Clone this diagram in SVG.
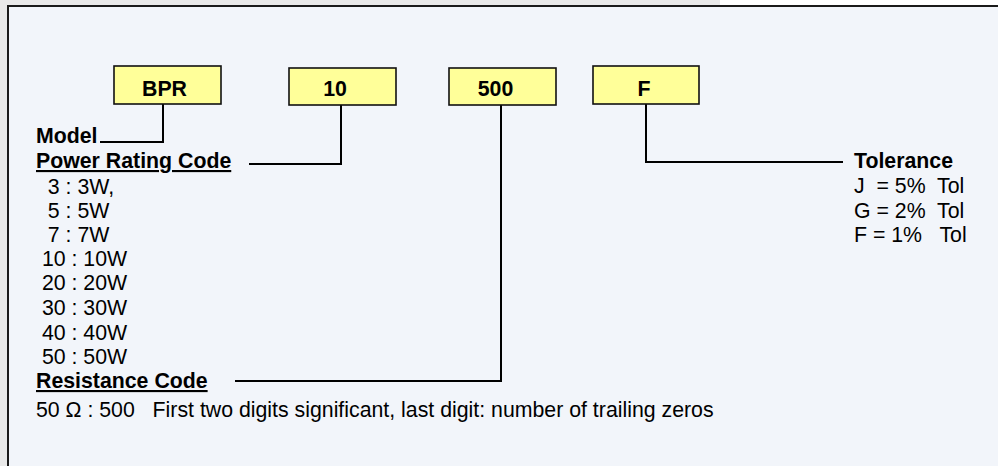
<svg xmlns="http://www.w3.org/2000/svg" width="998" height="466" viewBox="0 0 998 466">
<style>
.t{font-family:"Liberation Sans",Arial,sans-serif;font-size:21.3px;fill:#000}
.b{font-weight:bold}
.u{text-decoration:underline}
.box{fill:#FFFF99;stroke:#111;stroke-width:1.6}
.c{fill:none;stroke:#000;stroke-width:2}
</style>
<rect x="0" y="0" width="998" height="466" fill="#ffffff"/>
<rect x="0" y="0" width="720" height="6" fill="#e9e9e9"/>
<rect x="0" y="0" width="7" height="466" fill="#e9e9e9"/>
<rect x="8" y="6" width="1000" height="470" fill="#F2F5FA" stroke="#1a1a1a" stroke-width="2"/>
<g id="connectors">
<path class="c" d="M163,104 V142 H100"/>
<path class="c" d="M341,105 V164 H249"/>
<path class="c" d="M501,105 V381 H235"/>
<path class="c" d="M646,104 V162 H843"/>
</g>
<g id="node-bpr">
<rect class="box" x="114" y="66" width="107" height="38"/>
<text class="t b" x="164.5" y="95.5" text-anchor="middle">BPR</text>
</g>
<g id="node-10">
<rect class="box" x="289" y="68" width="107" height="37"/>
<text class="t b" x="335" y="95.5" text-anchor="middle">10</text>
</g>
<g id="node-500">
<rect class="box" x="449" y="68" width="107" height="37"/>
<text class="t b" x="495.5" y="95.5" text-anchor="middle">500</text>
</g>
<g id="node-f">
<rect class="box" x="593" y="66" width="106" height="38"/>
<text class="t b" x="644" y="95.5" text-anchor="middle">F</text>
</g>
<g id="label-model">
<text class="t b" x="36" y="143">Model</text>
</g>
<g id="label-power">
<text class="t b u" x="36" y="168">Power Rating Code</text>
<text class="t" xml:space="preserve" x="36" y="194">  3 : 3W,</text>
<text class="t" xml:space="preserve" x="36" y="218">  5 : 5W</text>
<text class="t" xml:space="preserve" x="36" y="242">  7 : 7W</text>
<text class="t" xml:space="preserve" x="36" y="266"> 10 : 10W</text>
<text class="t" xml:space="preserve" x="36" y="290"> 20 : 20W</text>
<text class="t" xml:space="preserve" x="36" y="315"> 30 : 30W</text>
<text class="t" xml:space="preserve" x="36" y="340"> 40 : 40W</text>
<text class="t" xml:space="preserve" x="36" y="364"> 50 : 50W</text>
</g>
<g id="label-resistance">
<text class="t b u" x="36" y="388">Resistance Code</text>
<text class="t" xml:space="preserve" x="36" y="417">50 Ω : 500   First two digits significant, last digit: number of trailing zeros</text>
</g>
<g id="label-tolerance">
<text class="t b" x="854" y="168">Tolerance</text>
<text class="t" xml:space="preserve" x="854" y="193">J  = 5%  Tol</text>
<text class="t" xml:space="preserve" x="854" y="218">G = 2%  Tol</text>
<text class="t" xml:space="preserve" x="854" y="242">F = 1%   Tol</text>
</g>
</svg>
